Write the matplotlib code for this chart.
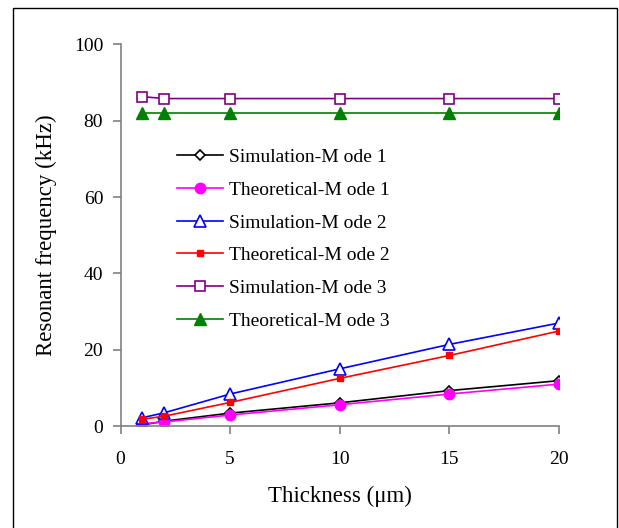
import matplotlib
matplotlib.use('Agg')
import matplotlib.pyplot as plt
from matplotlib.patches import Rectangle

plt.rcParams['font.family'] = ['Liberation Serif', 'DejaVu Serif']

# thickness (um)
thickness = [1, 2, 5, 10, 15, 20]

# resonant frequency (kHz)
sim_mode1 = [0.3, 1.3, 3.4, 6.1, 9.3, 11.9]
theo_mode1 = [0.6, 1.1, 2.9, 5.6, 8.4, 11.0]
sim_mode2 = [2.2, 3.5, 8.4, 15.0, 21.4, 27.0]
theo_mode2 = [1.8, 2.6, 6.2, 12.5, 18.5, 24.9]
sim_mode3 = [86.3, 85.8, 85.8, 85.8, 85.8, 85.8]
theo_mode3 = [82.0, 82.0, 82.0, 82.0, 82.0, 82.0]

labels = ['Simulation-M ode 1', 'Theoretical-M ode 1', 'Simulation-M ode 2',
          'Theoretical-M ode 2', 'Simulation-M ode 3', 'Theoretical-M ode 3']

fig = plt.figure(figsize=(6.19, 5.28), dpi=100)
ax = fig.add_axes([0.1947, 0.193, 0.7083, 0.723])

lw = 1.2
ax.plot(thickness, sim_mode1, color='black', lw=lw, marker='D', ms=5.5,
        mfc='white', mec='black', mew=1.2, label=labels[0])
ax.plot(thickness, theo_mode1, color='#FF00FF', lw=lw, marker='o', ms=7.5,
        mfc='#FF00FF', mec='#FF00FF', label=labels[1])
ax.plot(thickness, sim_mode2, color='#0000FF', lw=lw, marker='^', ms=8,
        mfc='white', mec='#0000FF', mew=1.2, label=labels[2])
ax.plot(thickness, theo_mode2, color='#FF0000', lw=lw, marker='s', ms=5,
        mfc='#FF0000', mec='#FF0000', label=labels[3])
ax.plot(thickness, sim_mode3, color='#800080', lw=lw, marker='s', ms=7,
        mfc='white', mec='#800080', mew=1.2, label=labels[4])
ax.plot(thickness, theo_mode3, color='#008000', lw=lw, marker='^', ms=8.5,
        mfc='#008000', mec='#008000', label=labels[5])

ax.set_xlim(0, 20)
ax.set_ylim(0, 100)
ax.set_xticks([0, 5, 10, 15, 20])
ax.set_yticks([0, 20, 40, 60, 80, 100])

for s in ['top', 'right']:
    ax.spines[s].set_visible(False)
for s in ['left', 'bottom']:
    ax.spines[s].set_color('#808080')
    ax.spines[s].set_linewidth(1.2)
ax.tick_params(direction='out', length=6, width=1.2, color='#808080',
               labelsize=14)
ax.tick_params(axis='x', pad=12)
ax.tick_params(axis='y', pad=6.5)
for lab in ax.get_xticklabels() + ax.get_yticklabels():
    lab.set_clip_on(False)
ax.set_xlabel('Thickness (\u03bcm)', fontsize=16.5, labelpad=12.5)
ax.set_ylabel('Resonant frequency (kHz)', fontsize=16.5, labelpad=12)

leg = ax.legend(loc='upper left', bbox_to_anchor=(0.128, 0.727), frameon=False,
                fontsize=14, handlelength=2.4, handletextpad=0.3,
                labelspacing=0.775, borderpad=0, borderaxespad=0)

# outer frame
fig.patches.append(Rectangle((13 / 619, -0.01), 604 / 619, 1 - 8.4 / 528 + 0.01,
                             transform=fig.transFigure, fill=False,
                             edgecolor='black', lw=1.0))

fig.savefig('out.png', dpi=100)
